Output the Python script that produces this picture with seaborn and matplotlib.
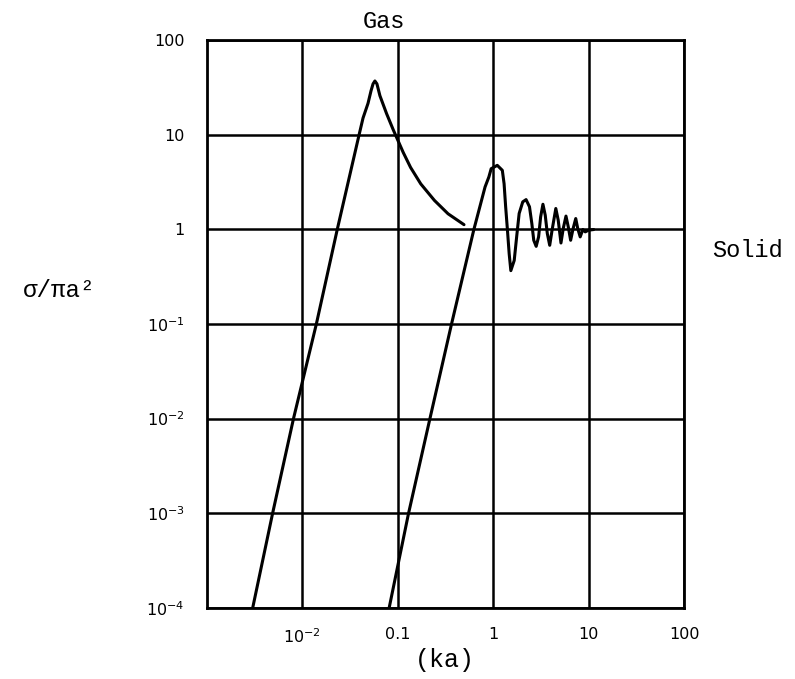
import numpy as np
import pandas as pd
import matplotlib
matplotlib.use("Agg")
import matplotlib.pyplot as plt
import seaborn as sns
from matplotlib.ticker import FixedLocator, FixedFormatter, NullLocator

sns.set_theme(style="white")
plt.rcParams['font.family'] = ['DejaVu Sans']
plt.rcParams['text.color'] = 'black'

# ---- data ----
gas_ka = [0.00301, 0.00487, 0.00806, 0.0140, 0.0232, 0.0393, 0.0432, 0.0487,
          0.0524, 0.0550, 0.0575, 0.0604, 0.0649, 0.0762, 0.0894, 0.114,
          0.136, 0.174, 0.242, 0.336, 0.494]
gas_sigma = [1.0e-4, 1.0e-3, 0.010, 0.100, 1.0, 10.0, 15.0, 21.4,
             29.1, 34.4, 36.9, 34.4, 25.8, 16.7, 11.3, 6.48,
             4.51, 3.02, 2.02, 1.46, 1.12]

solid_ka = [0.0811, 0.129, 0.217, 0.364, 0.626, 0.821, 0.900, 0.952, 1.103,
            1.246, 1.30, 1.35, 1.41, 1.47, 1.53, 1.66, 1.76, 1.87, 2.04, 2.21,
            2.40, 2.54, 2.66, 2.82, 2.99, 3.14, 3.32, 3.51, 3.69, 3.91, 4.14,
            4.53, 4.80, 5.13, 5.42, 5.79, 6.12, 6.48, 6.88, 7.33, 7.69, 8.16,
            8.70, 9.22, 10.0, 11.3]
solid_sigma = [1.0e-4, 0.00098, 0.010, 0.098, 0.99, 2.80, 3.57, 4.37, 4.74,
               4.20, 3.03, 1.73, 0.98, 0.551, 0.366, 0.469, 0.831, 1.47, 1.95, 2.06,
               1.73, 1.15, 0.766, 0.661, 0.832, 1.35, 1.84, 1.41, 0.902, 0.678, 0.98,
               1.66, 1.25, 0.717, 1.02, 1.38, 1.06, 0.766, 1.02, 1.30, 1.02, 0.832,
               0.995, 0.940, 0.98, 0.995]

x_ticks = [1e-2, 1e-1, 1, 10, 100]
x_tick_labels = [r"$10^{-2}$", "0.1", "1", "10", "100"]
y_ticks = [1e-4, 1e-3, 1e-2, 1e-1, 1, 10, 100]
y_tick_labels = [r"$10^{-4}$", r"$10^{-3}$", r"$10^{-2}$", r"$10^{-1}$", "1", "10", "100"]

df = pd.concat([
    pd.DataFrame({"ka": gas_ka, "sigma": gas_sigma, "phase": "Gas"}),
    pd.DataFrame({"ka": solid_ka, "sigma": solid_sigma, "phase": "Solid"}),
])

fig = plt.figure(figsize=(7.95, 6.79), dpi=100)
ax = fig.add_axes([0.2604, 0.1046, 0.600, 0.8365])

sns.lineplot(data=df, x="ka", y="sigma", units="phase", estimator=None,
             sort=False, color="black", linewidth=2.2, ax=ax, legend=False)
for line in ax.lines:
    line.set_solid_joinstyle("round")
    line.set_solid_capstyle("round")

ax.set_xscale("log")
ax.set_yscale("log")
ax.set_xlim(1e-3, 100)
ax.set_ylim(1e-4, 100)

ax.xaxis.set_major_locator(FixedLocator(x_ticks))
ax.xaxis.set_major_formatter(FixedFormatter(x_tick_labels))
ax.yaxis.set_major_locator(FixedLocator(y_ticks))
ax.yaxis.set_major_formatter(FixedFormatter(y_tick_labels))
ax.xaxis.set_minor_locator(NullLocator())
ax.yaxis.set_minor_locator(NullLocator())

ax.grid(True, which="major", color="black", linewidth=1.8)
ax.set_axisbelow(True)
for s in ax.spines.values():
    s.set_color("black")
    s.set_linewidth(2.0)
    s.set_visible(True)

ax.tick_params(axis="both", length=0, labelsize=11.5, colors="black")
ax.tick_params(axis="x", pad=14)
ax.tick_params(axis="y", pad=16)

ax.set_xlabel("")
ax.set_ylabel("")

mono = ["Liberation Mono", "DejaVu Sans Mono"]
ax.text(0.37, 1.012, "Gas", transform=ax.transAxes, ha="center", va="bottom",
        fontsize=17, family=mono, color="black")
ax.text(1.06, 0.63, "Solid", transform=ax.transAxes, ha="left", va="center",
        fontsize=17, family=mono, color="black")
fig.text(0.56, 0.028, "(ka)", ha="center", va="center", fontsize=18, family=mono,
         color="black")
fig.text(0.074, 0.572, "σ/πa²", ha="center", va="center", fontsize=17.5, family=mono,
         color="black")

fig.savefig("out.png", dpi=100)
